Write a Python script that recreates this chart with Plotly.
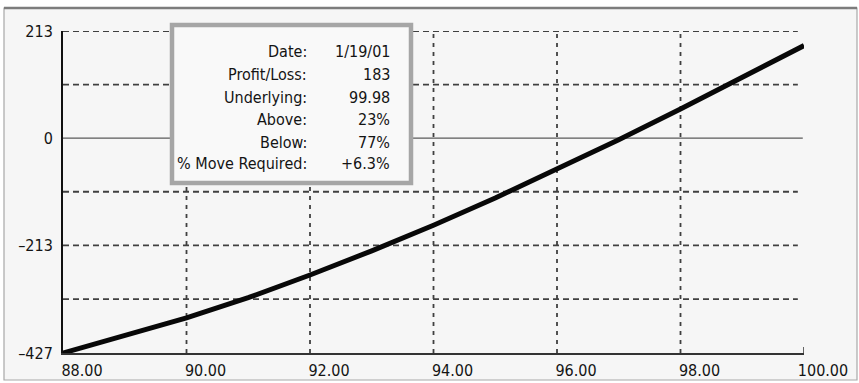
import plotly.graph_objects as go

# Profit/loss curve versus underlying price
underlying = [88, 89, 90, 91, 92, 93, 94, 95, 96, 97, 98, 99, 100]
profit_loss = [-427, -393, -357, -317, -272, -224, -173, -119, -62, -3, 58, 121, 184]

# Axis ticks and grid
x_ticks = [88, 90, 92, 94, 96, 98, 100]
x_tick_text = ["88.00", "90.00", "92.00", "94.00", "96.00", "98.00", "100.00"]
y_ticks = [213, 0, -213, -427]
y_tick_text = ["213", "0", "\u2013213", "\u2013427"]
h_grid = [213, 106.5, -106.5, -213, -320]
v_grid = [90, 92, 94, 96, 98]

# Readout panel
info_labels = ["Date:", "Profit/Loss:", "Underlying:", "Above:", "Below:", "% Move Required:"]
info_values = ["1/19/01", "183", "99.98", "23%", "77%", "+6.3%"]

W, H = 859, 383
L, R, T, B = 63, 55, 31, 30
FONT = "Liberation Sans Narrow, DejaVu Sans Condensed, Arial Narrow, sans-serif"
TEXT = "#141414"


def px(x):
    return (x - L) / (W - L - R)


def py(y):
    return (H - B - y) / (H - T - B)


fig = go.Figure()
fig.add_trace(go.Scatter(
    x=underlying, y=profit_loss, mode="lines",
    line=dict(color="#080808", width=5),
    hoverinfo="skip", showlegend=False,
))

shapes = []
# outer frame
shapes.append(dict(type="rect", xref="paper", yref="paper",
                   x0=px(4), x1=px(857), y0=py(380), y1=py(8),
                   fillcolor="#f6f6f6", line=dict(color="#a8a8a8", width=1.2),
                   layer="below"))
shapes.append(dict(type="line", xref="paper", yref="paper",
                   x0=px(4), x1=px(857), y0=py(8), y1=py(8),
                   line=dict(color="#7c7c7c", width=2.5), layer="below"))
# horizontal dashed grid
for v in h_grid:
    shapes.append(dict(type="line", xref="x", yref="y", x0=88, x1=99.9, y0=v, y1=v,
                       line=dict(color="#404040", width=1.8, dash="6px,4px"),
                       layer="below"))
# zero line
shapes.append(dict(type="line", xref="x", yref="y", x0=88, x1=99.98, y0=0, y1=0,
                   line=dict(color="#5a5a5a", width=1.3), layer="below"))
# vertical dashed grid
for v in v_grid:
    shapes.append(dict(type="line", xref="x", yref="y", x0=v, x1=v, y0=-427, y1=213,
                       line=dict(color="#404040", width=1.8, dash="4px,5px"),
                       layer="below"))
# end tick on the price axis
shapes.append(dict(type="line", xref="x", yref="y", ysizemode="pixel", yanchor=-427,
                   x0=100, x1=100, y0=0, y1=6,
                   line=dict(color="#333333", width=1.5)))
# readout panel
shapes.append(dict(type="rect", xref="paper", yref="paper",
                   x0=px(172), x1=px(411), y0=py(183), y1=py(25),
                   fillcolor="#f9f9f9", line=dict(color="#a6a6a6", width=4.5)))

annotations = []
row_y = [52, 74.5, 97, 119.5, 142, 164]
for lab, val, yy in zip(info_labels, info_values, row_y):
    annotations.append(dict(xref="paper", yref="paper", x=px(309), y=py(yy),
                            text=lab, showarrow=False, xanchor="right", yanchor="middle",
                            font=dict(family=FONT, size=16, color=TEXT)))
    annotations.append(dict(xref="paper", yref="paper", x=px(392), y=py(yy),
                            text=val, showarrow=False, xanchor="right", yanchor="middle",
                            font=dict(family=FONT, size=16, color=TEXT)))

fig.update_layout(
    template="none",
    width=W, height=H,
    margin=dict(l=L, r=R, t=T, b=B, pad=0, autoexpand=False),
    paper_bgcolor="white", plot_bgcolor="rgba(0,0,0,0)",
    shapes=shapes, annotations=annotations,
    font=dict(family=FONT, size=16, color=TEXT),
    xaxis=dict(range=[88, 100], tickvals=x_ticks, ticktext=x_tick_text,
               showgrid=False, zeroline=False, showline=True, automargin=False,
               linecolor="#333333", linewidth=1.6, ticks="",
               ticklabelshift=19, ticklabelstandoff=2,
               tickfont=dict(family=FONT, size=16, color=TEXT)),
    yaxis=dict(range=[-427, 213], tickvals=y_ticks, ticktext=y_tick_text,
               showgrid=False, zeroline=False, showline=True, automargin=False,
               linecolor="#111111", linewidth=2, ticks="",
               ticklabelstandoff=5,
               tickfont=dict(family=FONT, size=16, color=TEXT)),
)

fig.write_html("out.html")
